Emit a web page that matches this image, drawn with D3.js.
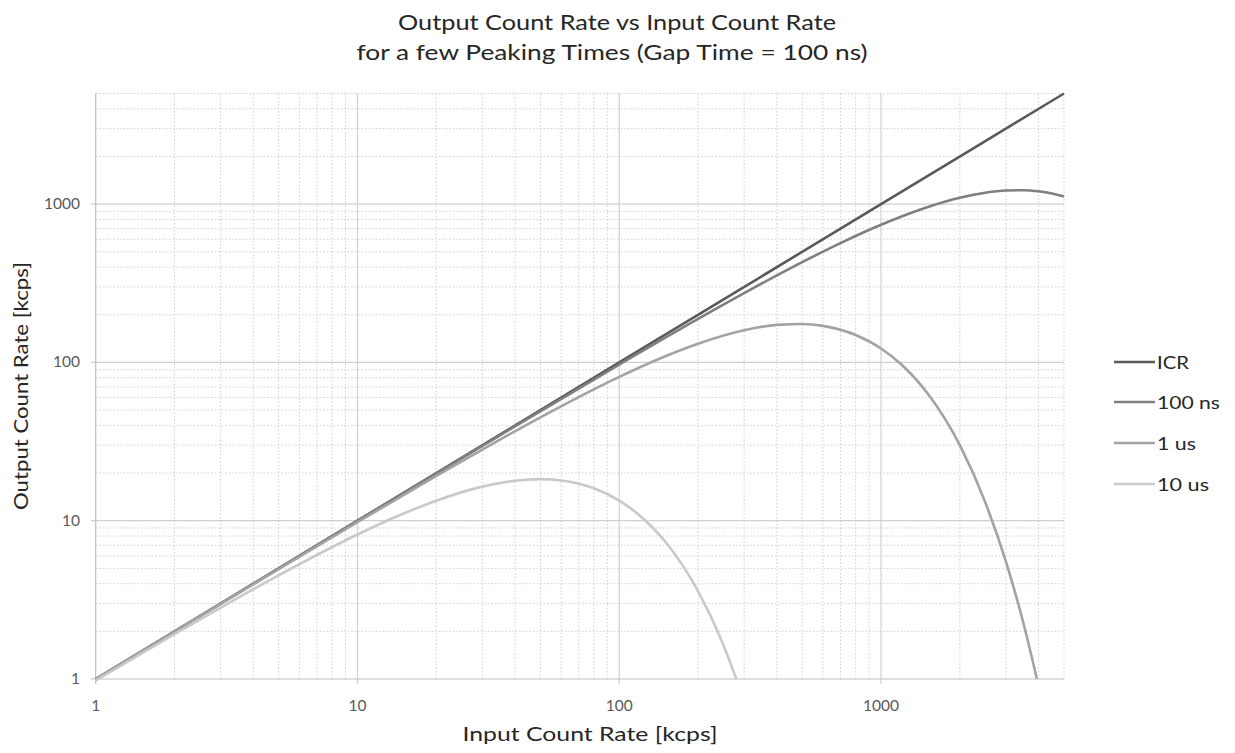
<!DOCTYPE html>
<html><head><meta charset="utf-8">
<script src="https://cdn.jsdelivr.net/npm/d3@7"></script>
<style>body{margin:0;background:#fff;} text{font-family:Lato,"Open Sans","Noto Sans",sans-serif;}</style>
</head><body>
<svg id="c" width="1235" height="753"></svg>
<script>
const titleLines = ["Output Count Rate vs Input Count Rate", "for a few Peaking Times (Gap Time = 100 ns)"];
const xLabel = "Input Count Rate [kcps]";
const yLabel = "Output Count Rate [kcps]";
const tickValues = [1, 10, 100, 1000];
const tickLabels = ["1", "10", "100", "1000"];
const seriesNames = ["ICR", "100 ns", "1 us", "10 us"];
const seriesColors = ["#5a5a5a", "#7f7f7f", "#a3a3a3", "#c9c9c9"];

const icrX = [1, 10, 100, 1000, 5000];
const icrY = [1, 10, 100, 1000, 5000];
const ns100X = [1, 10, 30, 100, 200, 300, 500, 700, 1000, 1500, 2000, 2500, 3000, 3500, 4000, 4500, 5000];
const ns100Y = [1.0, 9.97, 29.73, 97.0, 188.4, 274.2, 430.4, 567.4, 740.8, 956.4, 1097.6, 1180.9, 1219.8, 1224.8, 1204.8, 1166.4, 1115.7];
const us1X = [1, 2, 5, 10, 20, 30, 50, 70, 100, 150, 200, 300, 400, 500, 600, 800, 1000, 1200, 1500, 2000, 2500, 3000, 3500, 3940];
const us1Y = [1.0, 1.99, 4.95, 9.79, 19.18, 28.17, 45.02, 60.43, 81.06, 109.5, 131.4, 159.8, 172.7, 175.0, 170.2, 149.1, 122.5, 96.6, 64.3, 30.0, 13.1, 5.51, 2.25, 1.0];
const us10X = [1, 2, 5, 10, 15, 20, 30, 40, 50, 60, 80, 100, 120, 150, 200, 250, 280];
const us10Y = [0.98, 1.92, 4.52, 8.18, 11.10, 13.38, 16.42, 17.90, 18.30, 17.96, 16.02, 13.40, 10.76, 7.36, 3.59, 1.64, 1.0];

const seriesX = [icrX, ns100X, us1X, us10X];
const seriesY = [icrY, ns100Y, us1Y, us10Y];

const svg = d3.select("#c");
const L = 95.7, R = 1064, T = 93.5, B = 679;
const x = d3.scaleLog().domain([1, 5000]).range([L, R]);
const y = d3.scaleLog().domain([1, 5000]).range([B, T]);

const minors = [];
for (let d = 1; d <= 1000; d *= 10) for (let m = 2; m <= 9; m++) { const v = d * m; if (v <= 5000) minors.push(v); }

const grid = svg.append("g");
grid.selectAll(".mx").data(minors).enter().append("line")
  .attr("x1", d => x(d)).attr("x2", d => x(d)).attr("y1", T).attr("y2", B)
  .attr("stroke", "#cfcfcf").attr("stroke-width", 1).attr("stroke-dasharray", "1.5,2");
grid.selectAll(".my").data(minors).enter().append("line")
  .attr("y1", d => y(d)).attr("y2", d => y(d)).attr("x1", L).attr("x2", R)
  .attr("stroke", "#cfcfcf").attr("stroke-width", 1).attr("stroke-dasharray", "1.5,2");
grid.selectAll(".Mx").data(tickValues.slice(1)).enter().append("line")
  .attr("x1", d => x(d)).attr("x2", d => x(d)).attr("y1", T).attr("y2", B + 5)
  .attr("stroke", "#d0d0d0").attr("stroke-width", 1.2);
grid.selectAll(".My").data(tickValues.slice(1)).enter().append("line")
  .attr("y1", d => y(d)).attr("y2", d => y(d)).attr("x1", L - 5).attr("x2", R)
  .attr("stroke", "#d0d0d0").attr("stroke-width", 1.2);

svg.append("line").attr("x1", L).attr("x2", L).attr("y1", T).attr("y2", B + 5).attr("stroke", "#bfbfbf").attr("stroke-width", 1.2);
svg.append("line").attr("x1", L - 5).attr("x2", R).attr("y1", B).attr("y2", B).attr("stroke", "#bfbfbf").attr("stroke-width", 1.2);

svg.selectAll(".xt").data(tickValues).enter().append("text")
  .attr("x", d => x(d)).attr("y", 711).attr("text-anchor", "middle")
  .attr("font-size", 15.5).attr("fill", "#595959").text((d, i) => tickLabels[i]);
svg.selectAll(".yt").data(tickValues).enter().append("text")
  .attr("x", 80).attr("y", d => y(d) + 5).attr("text-anchor", "end")
  .attr("font-size", 15.5).attr("fill", "#595959").text((d, i) => tickLabels[i]);

const line = d3.line().x(d => x(d[0])).y(d => y(d[1])).curve(d3.curveMonotoneX);
seriesNames.forEach((n, i) => {
  const pts = seriesX[i].map((v, j) => [v, seriesY[i][j]]);
  svg.append("path").datum(pts).attr("d", line).attr("fill", "none")
    .attr("stroke", seriesColors[i]).attr("stroke-width", 2.6);
});

const titleLen = [438, 511];
const titleCx = [617, 612];
svg.selectAll(".title").data(titleLines).enter().append("text")
  .attr("x", (d, i) => titleCx[i]).attr("y", (d, i) => 30 + i * 30).attr("text-anchor", "middle")
  .attr("font-size", 22).attr("fill", "#262626")
  .attr("textLength", (d, i) => titleLen[i]).attr("lengthAdjust", "spacingAndGlyphs").text(d => d);

svg.append("text").attr("x", 590).attr("y", 741).attr("text-anchor", "middle")
  .attr("font-size", 19).attr("fill", "#262626")
  .attr("textLength", 255).attr("lengthAdjust", "spacingAndGlyphs").text(xLabel);
svg.append("text").attr("transform", "translate(28,386) rotate(-90)").attr("text-anchor", "middle")
  .attr("font-size", 19).attr("fill", "#262626")
  .attr("textLength", 248).attr("lengthAdjust", "spacingAndGlyphs").text(yLabel);

const legY = [362, 402, 443, 484];
const legLen = [32, 63, 39, 52];
seriesNames.forEach((n, i) => {
  svg.append("line").attr("x1", 1114).attr("x2", 1155).attr("y1", legY[i]).attr("y2", legY[i])
    .attr("stroke", seriesColors[i]).attr("stroke-width", 2.6);
  svg.append("text").attr("x", 1157).attr("y", legY[i] + 6.5).attr("font-size", 18)
    .attr("fill", "#262626").attr("textLength", legLen[i]).attr("lengthAdjust", "spacingAndGlyphs").text(n);
});
</script>
</body></html>
